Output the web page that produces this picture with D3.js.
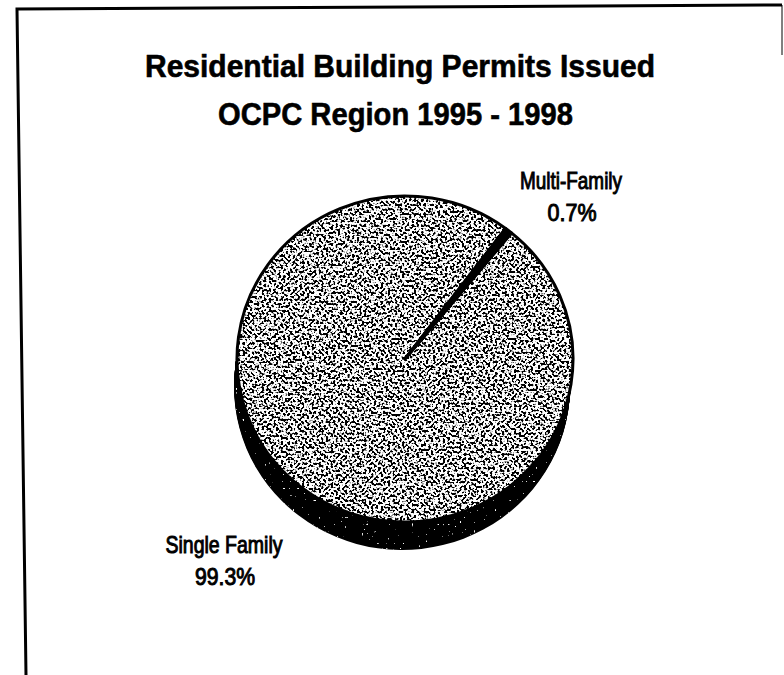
<!DOCTYPE html>
<html><head><meta charset="utf-8">
<script src="https://cdn.jsdelivr.net/npm/d3@7"></script>
<style>html,body{margin:0;padding:0;background:#fff;}svg{display:block;}</style>
</head><body>
<svg id="chart" width="784" height="675"></svg>
<script>
// ---- data ----
const titleLines = ["Residential Building Permits Issued", "OCPC Region 1995 - 1998"];
const categories = ["Multi-Family", "Single Family"];
const values = [0.7, 99.3];
const percentLabels = ["0.7%", "99.3%"];

// ---- layout ----
const W = 784, H = 675;
const cx = 405, cy = 359, rx = 168, ry = 163;
const depth = 28, shiftX = -3;
const startDeg = 36.8;
const FONT = "'Liberation Sans', Arial, Helvetica, sans-serif";

const svg = d3.select("#chart");
const defs = svg.append("defs");

// speckled stipple for the pie top
const f1 = defs.append("filter").attr("id", "speckle")
  .attr("x", "0%").attr("y", "0%").attr("width", "100%").attr("height", "100%");
f1.append("feTurbulence").attr("type", "fractalNoise").attr("baseFrequency", 0.42)
  .attr("numOctaves", 1).attr("seed", 7).attr("result", "noise");
f1.append("feColorMatrix").attr("in", "noise").attr("type", "matrix")
  .attr("values", "0 0 0 0 0  0 0 0 0 0  0 0 0 0 0  -14 0 0 0 7.3").attr("result", "dots");
f1.append("feComposite").attr("in", "dots").attr("in2", "SourceAlpha").attr("operator", "in").attr("result", "dotsIn");
const m1 = f1.append("feMerge");
m1.append("feMergeNode").attr("in", "SourceGraphic");
m1.append("feMergeNode").attr("in", "dotsIn");

// dark side with a few light specks
const f2 = defs.append("filter").attr("id", "darkspeckle")
  .attr("x", "0%").attr("y", "0%").attr("width", "100%").attr("height", "100%");
f2.append("feTurbulence").attr("type", "fractalNoise").attr("baseFrequency", 0.42)
  .attr("numOctaves", 1).attr("seed", 3).attr("result", "noise");
f2.append("feColorMatrix").attr("in", "noise").attr("type", "matrix")
  .attr("values", "0 0 0 0 1  0 0 0 0 1  0 0 0 0 1  16 0 0 0 -11.4").attr("result", "dots");
f2.append("feComposite").attr("in", "dots").attr("in2", "SourceAlpha").attr("operator", "in").attr("result", "dotsIn");
const m2 = f2.append("feMerge");
m2.append("feMergeNode").attr("in", "SourceGraphic");
m2.append("feMergeNode").attr("in", "dotsIn");

// ---- frame ----
svg.append("path").attr("d", "M26,675 L17,9 L782,5")
  .attr("fill", "none").attr("stroke", "#000").attr("stroke-width", 3);
svg.append("line").attr("x1", 782).attr("y1", 5).attr("x2", 782).attr("y2", 55)
  .attr("stroke", "#000").attr("stroke-width", 1);

// ---- title ----
const titleX = [400, 395.5], titleY = [77, 125], titleLen = [510, 355];
svg.selectAll("text.title").data(titleLines).join("text")
  .attr("class", "title")
  .attr("x", (d, i) => titleX[i]).attr("y", (d, i) => titleY[i])
  .attr("text-anchor", "middle")
  .attr("font-family", FONT).attr("font-weight", "bold").attr("font-size", 32)
  .attr("textLength", (d, i) => titleLen[i]).attr("lengthAdjust", "spacingAndGlyphs")
  .attr("fill", "#000").attr("stroke", "#000").attr("stroke-width", 0.6)
  .text(d => d);

// ---- pie ----
const pieData = categories.map((c, i) => ({ category: c, value: values[i], label: percentLabels[i] }));
const pie = d3.pie().sort(null).value(d => d.value)
  .startAngle(startDeg * Math.PI / 180)
  .endAngle(startDeg * Math.PI / 180 + 2 * Math.PI);
const arcs = pie(pieData);
const arc = d3.arc().innerRadius(0).outerRadius(rx);
const sy = ry / rx;

// side (extrusion)
const side = svg.append("g").attr("filter", "url(#darkspeckle)");
for (let t = depth; t >= 1; t--) {
  side.append("g")
    .attr("transform", `translate(${cx + shiftX * t / depth},${cy + t}) scale(1,${sy})`)
    .selectAll("path").data(arcs).join("path")
    .attr("d", arc).attr("fill", "#000");
}

// top face
const face = svg.append("g").attr("transform", `translate(${cx},${cy}) scale(1,${sy})`);
face.selectAll("path.slice").data(arcs).join("path")
  .attr("class", "slice")
  .attr("d", arc)
  .attr("fill", d => d.data.category === "Multi-Family" ? "#000" : "#fff")
  .attr("filter", d => d.data.category === "Multi-Family" ? null : "url(#speckle)");
face.selectAll("path.edge").data(arcs).join("path")
  .attr("class", "edge")
  .attr("d", arc)
  .attr("fill", "none").attr("stroke", "#000").attr("stroke-width", 3)
  .attr("stroke-linejoin", "round")
  .attr("vector-effect", "non-scaling-stroke");

// ---- labels ----
const labelX = { "Multi-Family": 571, "Single Family": 224 };
const labelY = { "Multi-Family": 189, "Single Family": 553 };
const catLen = { "Multi-Family": 102, "Single Family": 117 };
const pctLen = { "Multi-Family": 49, "Single Family": 60 };
const lab = svg.selectAll("g.lab").data(arcs).join("g").attr("class", "lab");
lab.append("text")
  .attr("x", d => labelX[d.data.category]).attr("y", d => labelY[d.data.category])
  .attr("text-anchor", "middle").attr("font-family", FONT).attr("font-size", 24)
  .attr("textLength", d => catLen[d.data.category]).attr("lengthAdjust", "spacingAndGlyphs")
  .attr("fill", "#000").attr("stroke", "#000").attr("stroke-width", 1)
  .text(d => d.data.category);
lab.append("text")
  .attr("x", d => labelX[d.data.category] + 1).attr("y", d => labelY[d.data.category] + 32)
  .attr("text-anchor", "middle").attr("font-family", FONT).attr("font-size", 24)
  .attr("textLength", d => pctLen[d.data.category]).attr("lengthAdjust", "spacingAndGlyphs")
  .attr("fill", "#000").attr("stroke", "#000").attr("stroke-width", 1)
  .text(d => d.data.label);
</script>
</body></html>
